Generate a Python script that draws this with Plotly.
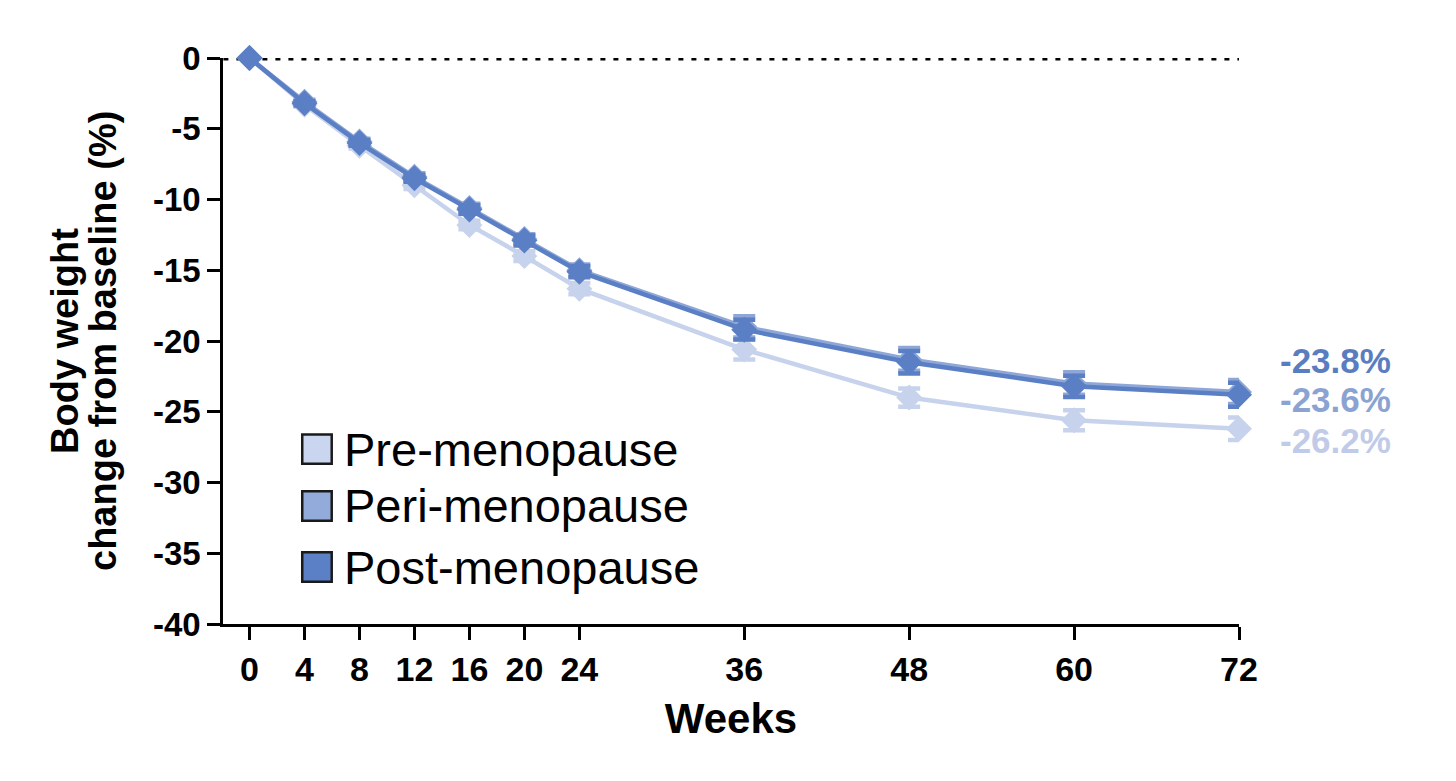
import plotly.graph_objects as go

weeks = [0, 4, 8, 12, 16, 20, 24, 36, 48, 60, 72]
pre = [0, -3.3, -6.2, -9.0, -11.8, -14.0, -16.3, -20.6, -24.0, -25.6, -26.2]
peri = [0, -3.1, -5.9, -8.4, -10.6, -12.8, -15.0, -19.0, -21.3, -23.0, -23.6]
post = [0, -3.2, -6.0, -8.5, -10.7, -12.9, -15.1, -19.2, -21.5, -23.2, -23.8]
pre_err = [0, 0.15, 0.2, 0.25, 0.3, 0.35, 0.4, 0.7, 0.65, 0.7, 0.8]
peri_err = [0, 0.15, 0.2, 0.25, 0.3, 0.35, 0.4, 0.75, 0.8, 0.8, 0.85]
post_err = [0, 0.15, 0.2, 0.25, 0.3, 0.35, 0.4, 0.7, 0.8, 0.75, 0.85]

names = ["Pre-menopause", "Peri-menopause", "Post-menopause"]
line_colors = ["#c7d2ec", "#8ea7d7", "#5b7fc4"]
box_colors = ["#cad5ef", "#92abdb", "#5b80c6"]
end_labels = ["-26.2%", "-23.6%", "-23.8%"]
end_label_y = [-27.0, -24.1, -21.35]
label_colors = ["#bfcbe8", "#8ba3d3", "#5a7dc0"]

yticks = [0, -5, -10, -15, -20, -25, -30, -35, -40]
ytext = ["0", "-5", "-10", "-15", "-20", "-25", "-30", "-35", "-40"]
ytitle_lines = ["Body weight", "change from baseline (%)"]

FONT = "Arial, Liberation Sans, Helvetica, sans-serif"

fig = go.Figure()

# zero reference line
fig.add_shape(type="line", xref="x", yref="y", x0=-1.9, x1=72, y0=0, y1=0,
              line=dict(color="black", width=5, dash="5px,8px"), layer="below")

for vals, errs, col in zip([pre, peri, post], [pre_err, peri_err, post_err], line_colors):
    fig.add_trace(go.Scatter(
        x=weeks, y=vals, mode="lines+markers",
        line=dict(color=col, width=4.5),
        marker=dict(symbol="diamond", size=20, color=col),
        error_y=dict(type="data", array=errs, color=col, thickness=4.5, width=11),
        cliponaxis=False, showlegend=False,
    ))

# legend (drawn manually)
leg_y = [0.309, 0.2085, 0.1007]
for nm, col, yy in zip(names, box_colors, leg_y):
    fig.add_shape(type="rect", xref="paper", yref="paper",
                  x0=0.078, x1=0.107, y0=yy - 0.026, y1=yy + 0.026,
                  fillcolor=col, line=dict(color="#1a1a1a", width=2.5))
    fig.add_annotation(xref="paper", yref="paper", x=0.117, y=yy, text=nm,
                       showarrow=False, xanchor="left", yanchor="middle",
                       font=dict(family=FONT, size=47, color="black"))

for txt, yy, col in zip(end_labels, end_label_y, label_colors):
    fig.add_annotation(xref="x", yref="y", x=72, y=yy, text="<b>" + txt + "</b>",
                       showarrow=False, xanchor="left", yanchor="middle", xshift=39,
                       font=dict(family=FONT, size=35, color=col))

# y-axis title as two rotated lines
for txt, xs in zip(ytitle_lines, [-158, -120]):
    fig.add_annotation(xref="paper", yref="paper", x=0, y=0.5, xshift=xs,
                       text="<b>" + txt + "</b>", textangle=-90, showarrow=False,
                       xanchor="center", yanchor="middle",
                       font=dict(family=FONT, size=38, color="black"))

fig.update_layout(
    width=1440, height=765,
    margin=dict(l=215, r=209, t=50, b=149),
    paper_bgcolor="white", plot_bgcolor="white",
    font=dict(family=FONT, color="black"),
    showlegend=False,
)
fig.update_xaxes(
    range=[-1.93, 72], tickvals=weeks, ticktext=["<b>%d</b>" % w for w in weeks],
    showgrid=False, zeroline=False, showline=True, linecolor="black", linewidth=2.5,
    ticks="outside", ticklen=13, tickwidth=2.5, tickcolor="black",
    tickfont=dict(family=FONT, size=34, color="black"),
    title=dict(text="<b>Weeks</b>", font=dict(family=FONT, size=42, color="black"), standoff=18),
)
fig.update_yaxes(
    range=[-40, 0], tickvals=yticks, ticktext=["<b>%s</b>" % t for t in ytext],
    showgrid=False, zeroline=False, showline=True, linecolor="black", linewidth=2.5,
    ticks="outside", ticklen=13, tickwidth=2.5, tickcolor="black",
    tickfont=dict(family=FONT, size=33, color="black"),
)

fig.write_html("out.html")
